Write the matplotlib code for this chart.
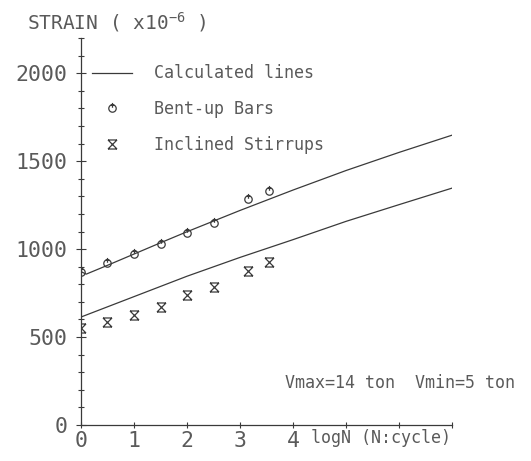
import numpy as np
import matplotlib
matplotlib.use("Agg")
import matplotlib.pyplot as plt
from matplotlib.path import Path
from matplotlib.ticker import MultipleLocator, FixedLocator

# --- data ---
# calculated lines
calc_up_x = [0, 0.1, 0.5, 1, 1.5, 2, 3, 4, 5, 6, 7]
calc_up_y = [872, 858, 908, 972, 1036, 1099, 1220, 1336, 1447, 1550, 1648]
calc_lo_x = [0, 1, 2, 3, 4, 5, 6, 7]
calc_lo_y = [614, 730, 846, 953, 1054, 1158, 1253, 1347]

# measured points
logN = [0, 0.5, 1, 1.5, 2, 2.5, 3.15, 3.55]
bent_up = [872, 920, 972, 1028, 1091, 1148, 1284, 1330]
inclined = [551, 585, 625, 670, 739, 784, 875, 926]

xticks_lab = [0, 1, 2, 3, 4]
yticks_lab = [0, 500, 1000, 1500, 2000]

ink = "#3a3a3a"
txt = "#5a5a5a"
mono = "DejaVu Sans Mono"
plt.rcParams['font.family'] = mono

# plotter style markers
M, L = Path.MOVETO, Path.LINETO
hourglass = Path([(-1, 1), (1, 1), (-1, -1), (1, -1), (-1, 1), (1, -1), (1, 1), (-1, -1)],
                 [M, L, M, L, M, L, M, L])
circ = Path.unit_circle()
tip = Path([(0, 0.2), (0, 1.5), (-0.5, 0.9), (0.5, 0.9)], [M, L, M, L])
bent_mark = Path.make_compound_path(circ, tip)

fig = plt.figure(figsize=(5.31, 4.61), dpi=100)
ax = fig.add_axes([0.1525, 0.078, 0.699, 0.8395])

ax.plot(calc_up_x, calc_up_y, color=ink, lw=0.9, label="Calculated lines")
ax.plot(calc_lo_x, calc_lo_y, color=ink, lw=0.9)
ax.plot(logN, bent_up, ls="none", marker=bent_mark, ms=8, mfc="none",
        mec=ink, mew=0.9, label="Bent-up Bars")
ax.plot(logN, inclined, ls="none", marker=hourglass, ms=6.5, mfc="none",
        mec=ink, mew=0.9, label="Inclined Stirrups")

ax.set_xlim(0, 7)
ax.set_ylim(0, 2200)
for s in ["top", "right"]:
    ax.spines[s].set_visible(False)
for s in ["left", "bottom"]:
    ax.spines[s].set_color(ink)
    ax.spines[s].set_linewidth(0.9)

ax.xaxis.set_major_locator(FixedLocator(range(0, 8)))
ax.set_xticklabels([str(v) if v in xticks_lab else "" for v in range(0, 8)])
ax.yaxis.set_major_locator(FixedLocator(yticks_lab))
ax.yaxis.set_minor_locator(MultipleLocator(100))
ax.tick_params(axis="y", which="major", direction="inout", length=7, width=0.8,
               color=ink, labelsize=15.5, labelcolor=txt, pad=6)
ax.tick_params(axis="y", which="minor", direction="inout", length=5, width=0.8, color=ink)
ax.tick_params(axis="x", which="major", direction="inout", length=4, width=0.8,
               color=ink, labelsize=15.5, labelcolor=txt, pad=2)

leg = ax.legend(loc="upper left", bbox_to_anchor=(0.03, 0.932), frameon=False,
                fontsize=12, labelcolor=txt, handlelength=2.4, handletextpad=1.3,
                labelspacing=1.07, borderaxespad=0, borderpad=0, markerfirst=True)

ax.text(0.62, -0.034, "logN (N:cycle)", transform=ax.transAxes, fontsize=12,
        color=txt, ha="left", va="center", clip_on=False)
fig.text(0.537, 0.169, "Vmax=14 ton  Vmin=5 ton", fontsize=12, color=txt,
         ha="left", va="center")
fig.text(0.05, 0.952, r"STRAIN ( x10$^{\mathregular{-6}}$ )", fontsize=14,
         color=txt, ha="left", va="center")

fig.savefig("out.png", dpi=100)
